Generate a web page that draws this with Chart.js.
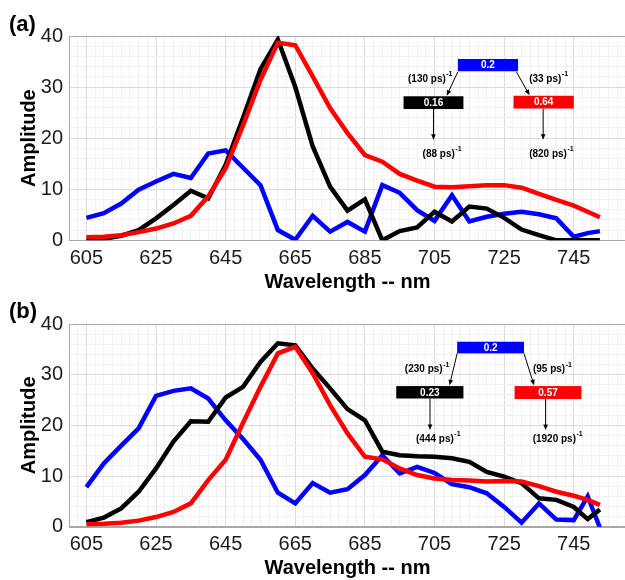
<!DOCTYPE html>
<html>
<head>
<meta charset="utf-8">
<script src="https://cdn.jsdelivr.net/npm/chart.js@4.4.1/dist/chart.umd.min.js"></script>
<style>
  html, body { margin: 0; padding: 0; background: #fff; overflow: hidden; }
  body { width: 625px; height: 580px; position: relative; }
  canvas { position: absolute; left: 0; }
  #chartA { top: 0; }
  #chartB { top: 294px; }
</style>
</head>
<body>
<canvas id="chartA" width="632" height="294"></canvas>
<canvas id="chartB" width="632" height="286"></canvas>
<script>
// wavelength grid (nm)
const wavelengths = [605, 610, 615, 620, 625, 630, 635, 640, 645, 650, 655, 660, 665, 670, 675,
    680, 685, 690, 695, 700, 705, 710, 715, 720, 725, 730, 735, 740, 745, 749, 752.5];

// panel (a) amplitudes
const blueA = [4.4, 5.3, 7.2, 9.9, 11.5, 13.0, 12.2, 17.0, 17.6, 14.2, 10.8, 2.0, 0.1, 4.8, 1.7,
    3.6, 1.7, 10.8, 9.3, 5.9, 3.8, 8.8, 3.7, 4.6, 5.2, 5.6, 5.1, 4.3, 0.7, 1.4, 1.8];
const blackA = [0.0, 0.3, 0.9, 2.0, 4.3, 6.9, 9.7, 8.2, 14.8, 24.0, 33.5, 39.3, 30.0, 18.4, 10.5,
    5.8, 8.0, 0.0, 1.8, 2.5, 5.6, 3.7, 6.6, 6.2, 4.4, 2.1, 1.0, 0.0, 0.0, 0.0, 0.0];
const redA = [0.6, 0.7, 1.0, 1.6, 2.3, 3.3, 4.8, 8.6, 14.1, 22.5, 31.4, 38.7, 38.2, 32.1, 25.9,
    21.0, 16.7, 15.4, 13.0, 11.7, 10.5, 10.4, 10.6, 10.8, 10.8, 10.3, 9.1, 7.9, 6.8, 5.6, 4.5];

// panel (b) amplitudes
const blueB = [7.8, 12.5, 16.0, 19.4, 25.8, 26.8, 27.3, 25.3, 21.0, 17.3, 13.2, 6.7, 4.6, 8.6, 6.7,
    7.4, 10.2, 14.1, 10.5, 11.8, 10.6, 8.4, 7.8, 6.6, 3.9, 0.8, 4.6, 1.4, 1.3, 6.0, -0.2];
const blackB = [0.9, 1.8, 3.6, 6.9, 11.5, 16.8, 20.8, 20.7, 25.5, 27.6, 32.5, 36.2, 35.8, 31.2, 27.3,
    23.2, 21.0, 14.8, 14.1, 13.9, 13.8, 13.5, 12.8, 10.8, 9.9, 8.6, 5.6, 5.3, 3.9, 1.5, 3.4];
const redB = [0.5, 0.6, 0.8, 1.2, 1.9, 2.9, 4.6, 9.2, 13.2, 20.5, 27.6, 34.2, 35.5, 30.3, 24.0,
    18.4, 13.8, 13.3, 11.5, 10.2, 9.5, 9.2, 9.1, 8.9, 9.0, 8.9, 8.0, 6.9, 6.1, 5.3, 4.3];

// axis labels
const xTickLabels = [605, 625, 645, 665, 685, 705, 725, 745];
const yTickLabels = [0, 10, 20, 30, 40];

// kinetic scheme text (amplitude boxes and rates)
const schemeA = { top: '0.2', left: '0.16', right: '0.64',
    rates: ['(130 ps)', '(33 ps)', '(88 ps)', '(820 ps)'] };
const schemeB = { top: '0.2', left: '0.23', right: '0.57',
    rates: ['(230 ps)', '(95 ps)', '(444 ps)', '(1920 ps)'] };

const FONT = '"Liberation Sans", Arial, Helvetica, sans-serif';

function toPoints(ys) {
    return wavelengths.map((w, i) => ({ x: w, y: ys[i] }));
}

function drawArrow(ctx, x1, y1, x2, y2) {
    const ang = Math.atan2(y2 - y1, x2 - x1);
    const head = 6;
    ctx.beginPath();
    ctx.moveTo(x1, y1);
    ctx.lineTo(x2 - Math.cos(ang) * head * 0.8, y2 - Math.sin(ang) * head * 0.8);
    ctx.stroke();
    ctx.beginPath();
    ctx.moveTo(x2, y2);
    ctx.lineTo(x2 - head * Math.cos(ang - 0.4), y2 - head * Math.sin(ang - 0.4));
    ctx.lineTo(x2 - head * Math.cos(ang + 0.4), y2 - head * Math.sin(ang + 0.4));
    ctx.closePath();
    ctx.fill();
}

function drawRate(ctx, text, cx, cy) {
    ctx.font = 'bold 10px ' + FONT;
    const w1 = ctx.measureText(text).width;
    ctx.font = 'bold 7px ' + FONT;
    const w2 = ctx.measureText('-1').width;
    const x0 = cx - (w1 + w2) / 2;
    ctx.textAlign = 'left';
    ctx.textBaseline = 'middle';
    ctx.font = 'bold 10px ' + FONT;
    ctx.fillText(text, x0, cy);
    ctx.font = 'bold 7px ' + FONT;
    ctx.fillText('-1', x0 + w1 + 0.5, cy - 5);
}

// frame, panel label and kinetic scheme
const schemePlugin = {
    id: 'scheme',
    beforeDatasetsDraw(chart) {
        const { ctx, chartArea: a } = chart;
        ctx.save();
        ctx.strokeStyle = '#a8a8a8';
        ctx.lineWidth = 1;
        ctx.strokeRect(Math.round(a.left) + 0.5, Math.round(a.top) + 0.5,
            Math.round(a.right - a.left), Math.round(a.bottom - a.top));
        ctx.restore();
    },
    afterDatasetsDraw(chart, args, opts) {
        const { ctx, scales: { x, y } } = chart;
        const px = v => x.getPixelForValue(v);
        const py = v => y.getPixelForValue(v);
        const s = opts.scheme;
        const g = opts.geom;
        ctx.save();

        // panel label
        ctx.fillStyle = '#000';
        ctx.font = 'bold 22px ' + FONT;
        ctx.textAlign = 'left';
        ctx.textBaseline = 'alphabetic';
        ctx.fillText(opts.label, 9, opts.labelY);

        // boxes
        const boxes = [
            { b: g.topBox, color: '#0000ff', text: s.top },
            { b: g.leftBox, color: '#000000', text: s.left },
            { b: g.rightBox, color: '#ff0000', text: s.right }
        ];
        boxes.forEach(({ b, color, text }) => {
            const x1 = px(b[0]), x2 = px(b[1]), y1 = py(b[2]), y2 = py(b[3]);
            ctx.fillStyle = color;
            ctx.fillRect(x1, y1, x2 - x1, y2 - y1);
            ctx.fillStyle = '#fff';
            ctx.font = 'bold 10px ' + FONT;
            ctx.textAlign = 'center';
            ctx.textBaseline = 'middle';
            ctx.fillText(text, (x1 + x2) / 2, (y1 + y2) / 2 + 0.5);
        });

        // arrows
        ctx.strokeStyle = '#000';
        ctx.fillStyle = '#000';
        ctx.lineWidth = 1;
        g.arrows.forEach(r => drawArrow(ctx, px(r[0]), py(r[1]), px(r[2]), py(r[3])));

        // rates
        ctx.fillStyle = '#000';
        g.rates.forEach((r, i) => drawRate(ctx, s.rates[i], px(r[0]), py(r[1])));
        ctx.restore();
    }
};

function isMajorX(v) {
    return Math.abs((((v - 605) % 20) + 20) % 20) < 1e-6 || Math.abs((((v - 605) % 20) + 20) % 20 - 20) < 1e-6;
}

function makeChart(id, series, pad, xHeight, plug) {
    return new Chart(document.getElementById(id), {
        type: 'line',
        data: {
            datasets: [
                { data: toPoints(series[2]), borderColor: '#ff0000', order: 0 },
                { data: toPoints(series[1]), borderColor: '#000000', order: 1 },
                { data: toPoints(series[0]), borderColor: '#0000ff', order: 2 }
            ]
        },
        options: {
            responsive: false,
            animation: false,
            events: [],
            layout: { padding: { top: pad, left: 0, right: 3, bottom: 0 } },
            elements: {
                line: { borderWidth: 4.5, tension: 0, fill: false, borderJoinStyle: 'miter', borderCapStyle: 'butt' },
                point: { radius: 0 }
            },
            plugins: {
                legend: { display: false },
                tooltip: { enabled: false },
                scheme: plug
            },
            scales: {
                x: {
                    type: 'linear',
                    min: 600,
                    max: 760,
                    afterFit: sc => { sc.height = xHeight; },
                    border: { display: true, color: '#a8a8a8' },
                    grid: {
                        drawTicks: false,
                        color: c => isMajorX(c.tick.value) ? '#dcdcdc' : '#f1f1f1'
                    },
                    ticks: {
                        stepSize: 2.5,
                        autoSkip: false,
                        maxRotation: 0,
                        padding: 6,
                        color: '#1a1a1a',
                        font: { family: FONT, size: 20 },
                        callback: v => xTickLabels.includes(v) ? String(v) : ''
                    },
                    title: {
                        display: true,
                        text: 'Wavelength -- nm',
                        color: '#000',
                        font: { family: FONT, size: 20, weight: 'bold' },
                        padding: { top: 0, bottom: 0 }
                    }
                },
                y: {
                    min: 0,
                    max: 40,
                    afterFit: sc => { sc.width = 69; },
                    border: { display: true, color: '#a8a8a8' },
                    grid: {
                        drawTicks: false,
                        color: c => c.tick.value % 10 === 0 ? '#dcdcdc' : '#f1f1f1'
                    },
                    ticks: {
                        stepSize: 2,
                        autoSkip: false,
                        padding: 6,
                        color: '#1a1a1a',
                        font: { family: FONT, size: 20 },
                        callback: v => yTickLabels.includes(v) ? String(v) : ''
                    },
                    title: {
                        display: true,
                        text: 'Amplitude',
                        color: '#000',
                        font: { family: FONT, size: 20, weight: 'bold' },
                        padding: { top: 17, bottom: 0 }
                    }
                }
            }
        },
        plugins: [schemePlugin]
    });
}

makeChart('chartA', [blueA, blackA, redA], 36, 53.7, {
    label: '(a)',
    labelY: 31,
    scheme: schemeA,
    geom: {
        topBox: [711.7, 729.0, 35.5, 33.1],
        leftBox: [696.1, 713.3, 28.2, 25.7],
        rightBox: [727.7, 745.0, 28.3, 25.8],
        arrows: [[711.7, 33.0, 708.5, 28.3], [728.5, 33.0, 732.3, 28.4],
                 [704.7, 25.7, 704.7, 19.7], [736.2, 25.8, 736.2, 19.7]],
        rates: [[703.7, 31.6], [737.7, 31.6], [707.1, 16.9], [738.5, 16.9]]
    }
});

makeChart('chartB', [blueB, blackB, redB], 30, 53.3, {
    label: '(b)',
    labelY: 23.5,
    scheme: schemeB,
    geom: {
        topBox: [711.5, 730.7, 36.5, 34.2],
        leftBox: [694.0, 713.3, 27.75, 25.3],
        rightBox: [728.0, 747.2, 27.75, 25.2],
        arrows: [[711.5, 34.2, 709.3, 27.9], [730.7, 34.2, 733.6, 27.9],
                 [703.7, 25.3, 703.7, 19.1], [736.9, 25.2, 736.9, 19.1]],
        rates: [[702.8, 31.0], [738.8, 31.0], [706.0, 17.3], [740.3, 17.3]]
    }
});
</script>
</body>
</html>
